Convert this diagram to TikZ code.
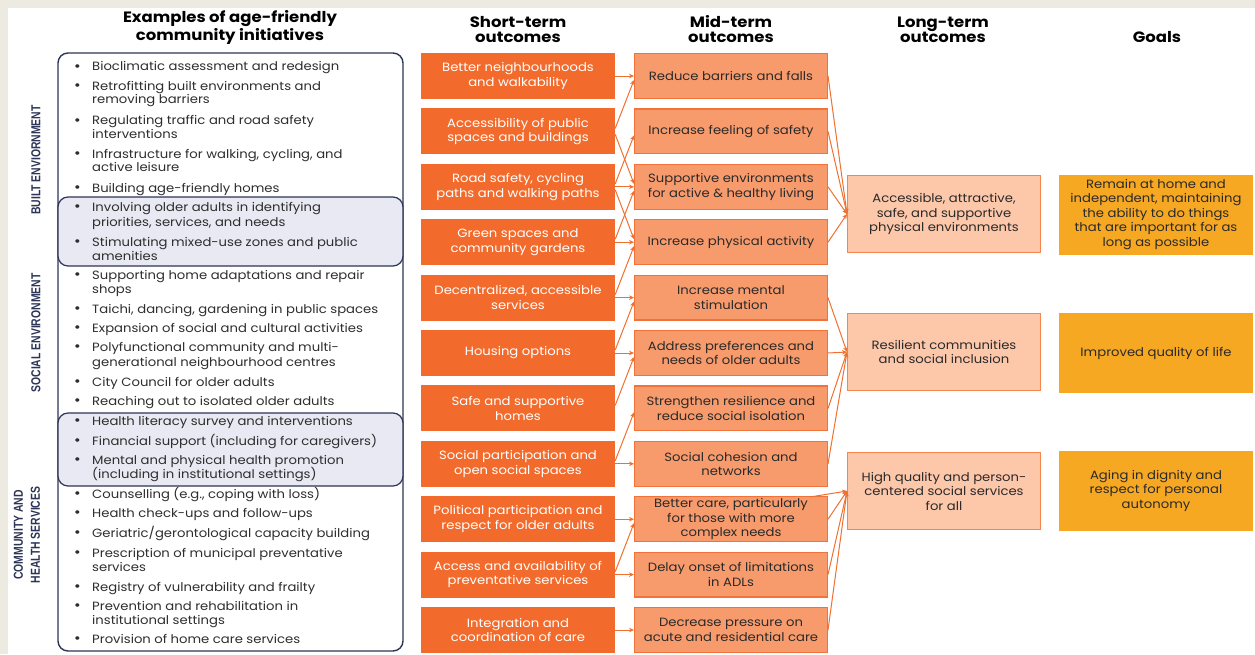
\documentclass[tikz,border=0pt]{standalone}
\usepackage{fontspec}
\setmainfont[FakeStretch=1.1]{Poppins}
\newfontfamily\condfont[FakeStretch=0.8]{Liberation Sans}
\usetikzlibrary{arrows.meta,calc}
\definecolor{bgbeige}{HTML}{EDEAE1}
\definecolor{navy}{HTML}{2D3557}
\definecolor{lav}{HTML}{E8E9F2}
\definecolor{sfill}{HTML}{F26B2C}
\definecolor{mfill}{HTML}{F89B6C}
\definecolor{mline}{HTML}{F2733A}
\definecolor{lfill}{HTML}{FDC7AA}
\definecolor{lline}{HTML}{F4864E}
\definecolor{gfill}{HTML}{F6A823}
\definecolor{arrc}{HTML}{F0702F}
\definecolor{txt}{HTML}{2A2A2A}
\definecolor{listtxt}{HTML}{2E2E2E}
\begin{document}
\begin{tikzpicture}[x=1pt,y=-1pt,
  header/.style={font=\fontsize{15}{15}\selectfont\bfseries, align=center, text=black, inner sep=0pt},
  sidelab/.style={font=\condfont\bfseries\fontsize{13}{17}\selectfont, text=navy, rotate=90, align=center, inner sep=0pt},
  itemtext/.style={font=\fontsize{12}{14}\selectfont, text=listtxt, anchor=west, inner sep=0pt, text height=8.5pt, text depth=2.5pt},
  bul/.style={font=\fontsize{12}{14}\selectfont\bfseries, text=listtxt, inner sep=0pt},
  boxbase/.style={minimum width=194pt, align=center, inner sep=2pt, font=\fontsize{12}{14.5}\selectfont},
  sbox/.style={boxbase, fill=sfill, minimum height=46pt, text=white},
  mbox/.style={boxbase, fill=mfill, draw=mline, line width=1.2pt, minimum width=192.8pt, minimum height=44.8pt, text=txt},
  lbox/.style={boxbase, fill=lfill, draw=lline, line width=1.2pt, minimum width=192.8pt, minimum height=76.8pt, text=txt},
  gbox/.style={boxbase, fill=gfill, minimum height=80pt, text=txt},
  arr/.style={draw=arrc, line width=1pt, -{Stealth[length=5pt,width=4.5pt]}},
  panel/.style={draw=navy, line width=1.4pt, rounded corners=10pt}
]
\useasboundingbox (0,0) rectangle (1255,654);
\fill[bgbeige] (0,0) rectangle (1255,654);
\fill[white] (8,8) rectangle (1255,654);

% headers
\node[header] (h1) at (230,27.5) {Examples of age-friendly\\community initiatives};
\node[header] (h2) at (518,29.5) {Short-term\\outcomes};
\node[header] (h3) at (731,29.5) {Mid-term\\outcomes};
\node[header] (h4) at (943,29.5) {Long-term\\outcomes};
\node[header] (h5) at (1157,37) {Goals};

% left panel
\draw[panel, fill=white] (58,53) rectangle (403,651);
\draw[panel, fill=lav, line width=1.2pt] (58,197) rectangle (403,266);
\draw[panel, fill=lav, line width=1.2pt] (58,413) rectangle (403,486);

% side labels
\node[sidelab] (sl1) at (36,160) {BUILT ENVIORNMENT};
\node[sidelab] (sl2) at (36,333) {SOCIAL ENVIRONMENT};
\node[sidelab] (sl3) at (27,535) {COMMUNITY AND\\HEALTH SERVICES};

% list items
\foreach \yy/\bb/\tt [count=\k] in {
 67.7/1/{Bioclimatic assessment and redesign},
 87/1/{Retrofitting built environments and},
 100.7/0/{removing barriers},
 121.7/1/{Regulating traffic and road safety},
 135/0/{interventions},
 155/1/{Infrastructure for walking, cycling, and},
 168.7/0/{active leisure},
 189/1/{Building age-friendly homes},
 208/1/{Involving older adults in identifying},
 223/0/{priorities, services, and needs},
 243/1/{Stimulating mixed-use zones and public},
 257/0/{amenities},
 276/1/{Supporting home adaptations and repair},
 290/0/{shops},
 310/1/{Taichi, dancing, gardening in public spaces},
 329/1/{Expansion of social and cultural activities},
 348/1/{Polyfunctional community and multi-},
 363/0/{generational neighbourhood centres},
 383/1/{City Council for older adults},
 402/1/{Reaching out to isolated older adults},
 422/1/{Health literacy survey and interventions},
 442/1/{Financial support (including for caregivers)},
 461/1/{Mental and physical health promotion},
 475/0/{(including in institutional settings)},
 495/1/{Counselling (e.g., coping with loss)},
 514/1/{Health check-ups and follow-ups},
 534/1/{Geriatric/gerontological capacity building},
 554/1/{Prescription of municipal preventative},
 568/0/{services},
 588/1/{Registry of vulnerability and frailty},
 607/1/{Prevention and rehabilitation in},
 621/0/{institutional settings},
 640/1/{Provision of home care services}} {
  \node[itemtext] (it\k) at (92,\yy) {\tt};
  \ifnum\bb=1 \node[bul] (bu\k) at (77.5,\yy) {\textbullet}; \fi
}

% short-term
\foreach \tt [count=\i] in {
 {Better neighbourhoods\\and walkability},
 {Accessibility of public\\spaces and buildings},
 {Road safety, cycling\\paths and walking paths},
 {Green spaces and\\community gardens},
 {Decentralized, accessible\\services},
 {Housing options},
 {Safe and supportive\\homes},
 {Social participation and\\open social spaces},
 {Political participation and\\respect for older adults},
 {Access and availability of\\preventative services},
 {Integration and\\coordination of care}} {
  \node[sbox] (s\i) at (518,{76+55.4*(\i-1)}) {\tt};
}

% mid-term
\foreach \tt [count=\i] in {
 {Reduce barriers and falls},
 {Increase feeling of safety},
 {Supportive environments\\for active \& healthy living},
 {Increase physical activity},
 {Increase mental\\stimulation},
 {Address preferences and\\needs of older adults},
 {Strengthen resilience and\\reduce social isolation},
 {Social cohesion and\\networks},
 {Better care, particularly\\for those with more\\complex needs},
 {Delay onset of limitations\\in ADLs},
 {Decrease pressure on\\acute and residential care}} {
  \node[mbox] (m\i) at (731,{76+55.4*(\i-1)}) {\tt};
}

% long-term
\node[lbox] (l1) at (944,214) {Accessible, attractive,\\safe, and supportive\\physical environments};
\node[lbox] (l2) at (944,352) {Resilient communities\\and social inclusion};
\node[lbox] (l3) at (944,491) {High quality and person-\\centered social services\\for all};

% goals
\node[gbox] (g1) at (1156,214.5) {Remain at home and\\independent, maintaining\\the ability to do things\\that are important for as\\long as possible};
\node[gbox] (g2) at (1156,353) {Improved quality of life};
\node[gbox] (g3) at (1156,490.5) {Aging in dignity and\\respect for personal\\autonomy};

% short -> mid arrows
\foreach \a in {1,3,4,5,6,8,9,10,11} \draw[arr] (s\a.east) -- (m\a.west);
\foreach \a/\b in {2/1,3/2,4/3,5/4,6/5,7/6,8/7,10/9}
  \draw[arr] ($(s\a.east)+(0,-3)$) -- ($(m\b.west)+(0,4)$);
\foreach \a/\b in {2/3,3/4}
  \draw[arr] ($(s\a.east)+(0,3)$) -- ($(m\b.west)+(0,-3)$);

% mid -> long arrows
\foreach \a/\b in {1/1,2/1,3/1,4/1,5/2,6/2,7/2,8/2,9/3,10/3,11/3}
  \draw[arr] (m\a.east) -- (l\b.west);
\draw[arr] ($(m9.north east)+(-18,1)$) -- (l3.west);
\end{tikzpicture}
\end{document}
